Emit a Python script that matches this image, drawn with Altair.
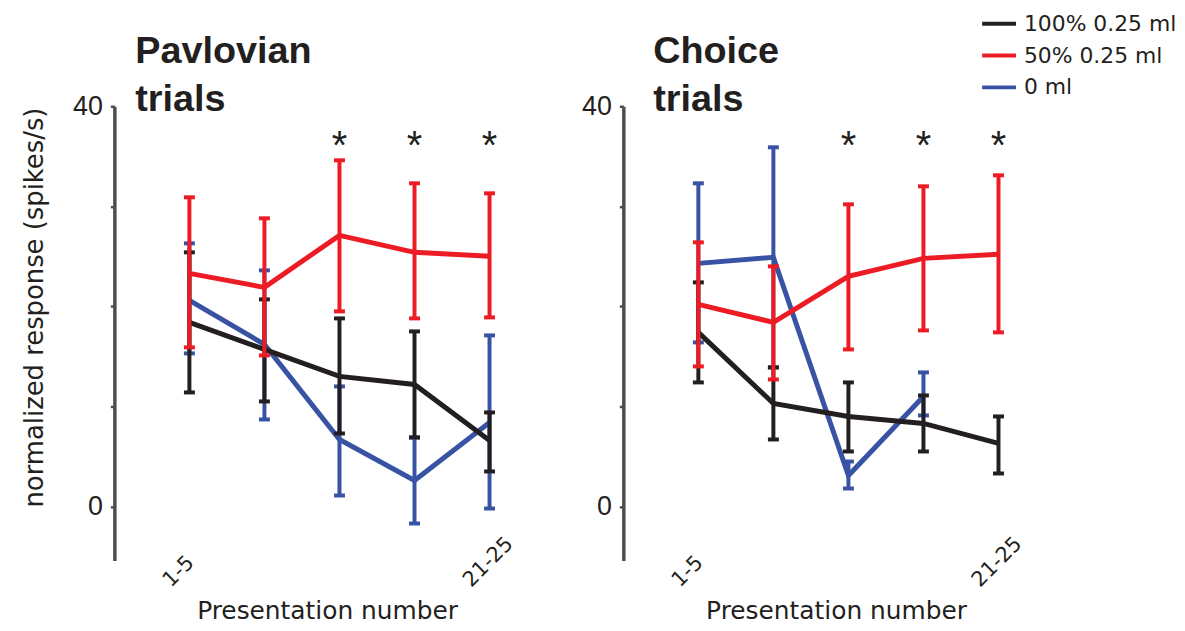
import altair as alt
import pandas as pd

x_pos = [1, 2, 3, 4, 5]
conditions = ["100% 0.25 ml", "50% 0.25 ml", "0 ml"]
colors = ["#231F20", "#ED1C24", "#3953A4"]

# Pavlovian trials
pav_black_mean = [18.4, 15.7, 13.0, 12.2, 6.6]
pav_black_hi = [25.4, 20.7, 18.8, 17.5, 9.4]
pav_black_lo = [11.4, 10.5, 7.3, 6.9, 3.5]
pav_red_mean = [23.3, 21.9, 27.1, 25.4, 25.0]
pav_red_hi = [30.9, 28.8, 34.6, 32.3, 31.3]
pav_red_lo = [15.9, 15.1, 19.5, 18.8, 18.9]
pav_blue_mean = [20.6, 16.2, 6.7, 2.6, 8.4]
pav_blue_hi = [26.3, 23.6, 12.0, 6.9, 17.1]
pav_blue_lo = [15.3, 8.7, 1.1, -1.7, -0.2]

# Choice trials
cho_black_mean = [17.4, 10.3, 9.0, 8.3, 6.3]
cho_black_hi = [22.4, 13.9, 12.4, 11.1, 9.0]
cho_black_lo = [12.4, 6.7, 5.5, 5.5, 3.3]
cho_red_mean = [20.2, 18.4, 23.0, 24.8, 25.2]
cho_red_hi = [26.4, 24.0, 30.2, 32.0, 33.1]
cho_red_lo = [14.0, 12.7, 15.7, 17.6, 17.4]
cho_blue_mean = [24.3, 24.9, 3.1, 11.0, None]
cho_blue_hi = [32.3, 35.9, 4.5, 13.4, None]
cho_blue_lo = [16.4, 13.9, 1.8, 9.1, None]

star_x = [3, 4, 5]
star_y = [35.9, 35.9, 35.9]

FONT = "Liberation Sans"
FONT2 = "DejaVu Sans"
INK = "#231F20"
AXIS_GREY = "#4D4D4D"


def frame(means, his, los, cond):
    rows = []
    for xv, m, h, l in zip(x_pos, means, his, los):
        if m is None:
            continue
        rows.append({"x": xv, "mean": m, "hi": h, "lo": l, "cond": cond})
    return pd.DataFrame(rows)


color_enc = alt.Color(
    "cond:N",
    scale=alt.Scale(domain=conditions, range=colors),
    legend=alt.Legend(
        title=None,
        orient="none",
        legendX=871,
        legendY=-102,
        symbolType="stroke",
        symbolStrokeWidth=4,
        symbolSize=1156,
        labelFont=FONT2,
        labelFontSize=22,
        labelColor=INK,
        labelOffset=6,
        rowPadding=2,
    ),
)


def panel(series, title_lines, show_ytitle, title_dx):
    xs = alt.Scale(domain=[0, 5.67], nice=False, zero=False)
    ys = alt.Scale(domain=[-5.4, 40], nice=False, zero=False)
    xaxis = alt.Axis(
        values=[1, 5],
        labelExpr="datum.value == 1 ? '1-5' : '21-25'",
        domain=False,
        ticks=False,
        grid=False,
        labelAngle=315,
        labelAlign="left",
        labelBaseline="alphabetic",
        labelOffset=-19,
        labelPadding=27,
        labelFont=FONT2,
        labelFontSize=21,
        labelColor=INK,
        titleFont=FONT2,
        titleFontSize=25,
        titleFontWeight="normal",
        titleColor=INK,
        titlePadding=8,
    )
    yaxis_kw = dict(
        values=[0, 10, 20, 30, 40],
        labelExpr="datum.value == 0 || datum.value == 40 ? datum.label : ''",
        domainColor=AXIS_GREY,
        domainWidth=3.5,
        tickColor=AXIS_GREY,
        tickWidth=2.5,
        tickSize=4,
        grid=False,
        labelFont=FONT,
        labelFontSize=27,
        labelColor=INK,
        labelPadding=8,
    )
    if show_ytitle:
        yaxis = alt.Axis(
            title="normalized response (spikes/s)",
            titleFont=FONT2,
            titleFontSize=26,
            titleFontWeight="normal",
            titleColor=INK,
            titlePadding=25,
            titleY=202,
            **yaxis_kw,
        )
    else:
        yaxis = alt.Axis(title=None, **yaxis_kw)

    X = lambda f: alt.X(f, scale=xs, axis=xaxis, title="Presentation number")
    Y = lambda f: alt.Y(f, scale=ys, axis=yaxis)

    layers = []
    for df in series:
        base = alt.Chart(df)
        layers.append(
            base.mark_rule(strokeWidth=4).encode(
                x=X("x:Q"), y=Y("lo:Q"), y2="hi:Q", color=color_enc
            )
        )
        for f in ("hi:Q", "lo:Q"):
            layers.append(
                base.mark_tick(orient="horizontal", size=11, thickness=4, opacity=1).encode(
                    x=X("x:Q"), y=Y(f), color=color_enc
                )
            )
        layers.append(
            base.mark_line(strokeWidth=5).encode(
                x=X("x:Q"), y=Y("mean:Q"), color=color_enc
            )
        )
    stars = alt.Chart(pd.DataFrame({"x": star_x, "y": star_y, "t": ["*"] * 3})).mark_text(
        font=FONT, fontSize=40, color=INK, baseline="middle"
    ).encode(x=X("x:Q"), y=Y("y:Q"), text="t:N")
    layers.append(stars)

    return alt.layer(*layers).properties(
        width=428,
        height=457,
        title=alt.Title(
            title_lines,
            anchor="start",
            frame="group",
            font=FONT,
            fontSize=38,
            fontWeight="bold",
            color=INK,
            dx=title_dx,
            offset=-27,
            lineHeight=49,
        ),
    )


pav = panel(
    [
        frame(pav_blue_mean, pav_blue_hi, pav_blue_lo, "0 ml"),
        frame(pav_black_mean, pav_black_hi, pav_black_lo, "100% 0.25 ml"),
        frame(pav_red_mean, pav_red_hi, pav_red_lo, "50% 0.25 ml"),
    ],
    ["Pavlovian", "trials"],
    True,
    21,
)
cho = panel(
    [
        frame(cho_blue_mean, cho_blue_hi, cho_blue_lo, "0 ml"),
        frame(cho_black_mean, cho_black_hi, cho_black_lo, "100% 0.25 ml"),
        frame(cho_red_mean, cho_red_hi, cho_red_lo, "50% 0.25 ml"),
    ],
    ["Choice", "trials"],
    False,
    30,
)

chart = (
    alt.hconcat(pav, cho, spacing=41)
    .properties(padding={"left": 13, "top": -5, "right": 0, "bottom": 0})
    .configure_view(stroke=None)
)

chart.save("out.html", embed_options={"renderer": "svg", "actions": False})
